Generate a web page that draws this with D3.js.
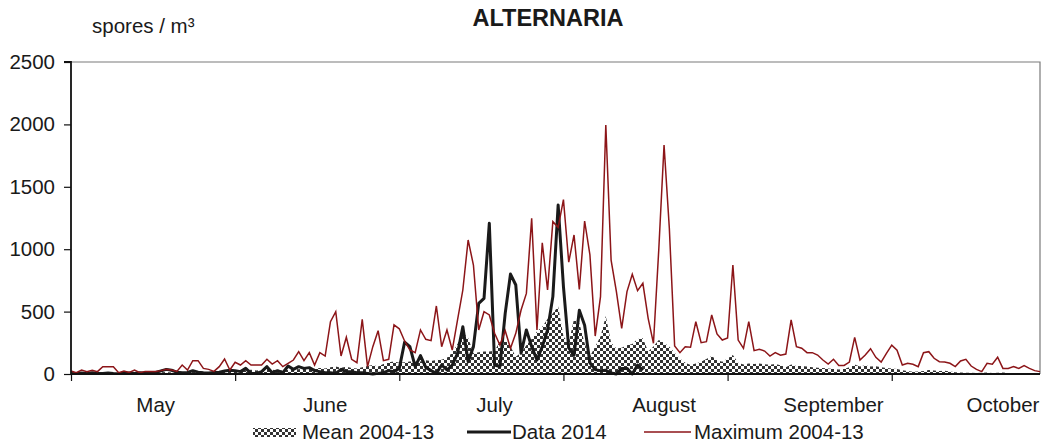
<!DOCTYPE html>
<html>
<head>
<meta charset="utf-8">
<script src="https://cdn.jsdelivr.net/npm/d3@7"></script>
<style>
  html, body { margin: 0; padding: 0; background: #fff; }
  svg { display: block; }
  text { font-family: "Liberation Sans", Arial, sans-serif; fill: #1a1a1a; }
</style>
</head>
<body>
<div id="chart"></div>
<script>
// ---- data (daily values, 1 May .. 31 Oct) ----
const startDate = "2014-05-01";

const mean2004_13 = [
  5,4,6,5,6,5,8,6,5,6, 7,5,8,6,8,9,10,14,16,12,
  10,14,12,18,20,16,14,18,20,25, 22,28,24,30,35,28,32,40,35,30,
  28,35,42,38,45,40,42,48,45,55, 60,50,58,48,45,55,65,72,60,80,
  95,100,90,95,100,99,100,110,105,112, 115,130,170,240,326,290,166,175,180,180,
  187,260,280,220,139,170,230,280,340,379, 440,486,540,300,250,440,406,246,140,220,
  300,465,250,205,210,230,240,280,286,180, 220,272,250,219,170,125,90,72,85,99,
  120,144,110,99,125,152,90,77,85,80, 85,78,75,80,70,55,77,65,64,60,
  55,50,48,45,40,37,40,55,77,60, 70,60,62,55,48,45,40,30,25,19,
  20,25,32,28,25,27,20,15,12,11, 10,8,10,12,9,10,12,8,7,8,
  6,5,5,4
];

const data2014 = [
  5,3,8,5,10,6,4,8,5,3, 6,8,5,10,6,8,12,25,37,30,
  15,10,12,27,15,10,8,12,15,24, 30,27,19,45,5,5,19,59,11,27,
  11,64,37,59,45,51,27,19,11,11, 5,37,19,19,11,11,5,0,5,11,
  27,19,45,255,219,59,147,53,27,5, 72,32,72,166,379,99,219,566,606,1207,
  72,59,486,801,713,166,353,219,112,219, 353,620,1354,700,210,150,510,390,90,35,
  27,30,8,0,45,45,0,72,30
];

const max2004_13 = [
  24,11,32,19,30,19,59,59,59,11, 24,13,32,11,21,21,21,27,37,32,
  21,72,32,107,107,45,37,21,59,120, 32,94,72,107,72,72,72,118,80,107,
  59,86,112,179,107,171,72,171,144,419, 499,144,294,118,91,438,59,219,347,107,
  118,393,362,265,192,171,353,278,267,545, 219,353,192,433,673,1074,873,353,499,473,
  326,232,347,206,326,513,646,1247,353,1052, 673,1221,1175,1397,896,1114,678,1226,954,304,
  620,1995,913,660,366,660,799,668,727,446, 246,994,1835,1167,224,171,219,214,419,251,
  259,473,321,272,288,873,272,206,419,187, 198,184,144,171,150,160,433,219,206,171,
  171,152,112,80,118,69,69,96,294,112, 152,203,134,96,166,231,190,72,86,78,
  59,171,179,126,99,96,86,59,104,118, 64,37,19,86,78,134,45,45,59,45,
  67,45,27,19
];

const yTicks = [0, 500, 1000, 1500, 2000, 2500];
const monthTickDays = [0, 31, 62, 93, 124, 155];
const months = ["May", "June", "July", "August", "September", "October"];
const monthLabelDays = [16, 48, 80, 112, 144, 176];
const legendLabels = ["Mean 2004-13", "Data 2014", "Maximum 2004-13"];
const title = "ALTERNARIA";
const unitLabel = "spores / m³";

(function () {
  // ---- layout ----
  const W = 1042, H = 445;
  const mLeft = 71, mRight = 1040, mTop = 62, mBottom = 374;
  const fontSize = 20.5;
  const redColor = "#8c1518";
  const blackColor = "#1a1a1a";

  const svg = d3.select("#chart").append("svg").attr("width", W).attr("height", H);

  const defs = svg.append("defs");
  const pat = defs.append("pattern").attr("id", "checker")
    .attr("width", 6).attr("height", 6).attr("patternUnits", "userSpaceOnUse");
  pat.append("rect").attr("width", 6).attr("height", 6).attr("fill", "#fff");
  pat.append("rect").attr("x", 0).attr("y", 0).attr("width", 3).attr("height", 3).attr("fill", "#333");
  pat.append("rect").attr("x", 3).attr("y", 3).attr("width", 3).attr("height", 3).attr("fill", "#333");

  const x = d3.scaleLinear().domain([0, max2004_13.length - 1]).range([mLeft, mRight]);
  const y = d3.scaleLinear().domain([0, 2500]).range([mBottom, mTop]);

  // plot border (top and right)
  svg.append("path")
    .attr("d", `M${mLeft},${mTop}H${mRight}V${mBottom}`)
    .attr("fill", "none").attr("stroke", "#7a7a7a").attr("stroke-width", 1.2);

  // mean area
  const area = d3.area().x((d, i) => x(i)).y0(y(0)).y1(d => y(d));
  svg.append("path").datum(mean2004_13).attr("d", area).attr("fill", "url(#checker)");

  // data 2014
  const line = d3.line().x((d, i) => x(i)).y(d => y(d));
  svg.append("path").datum(data2014).attr("d", line)
    .attr("fill", "none").attr("stroke", blackColor).attr("stroke-width", 3).attr("stroke-linejoin", "round");

  // maximum
  svg.append("path").datum(max2004_13).attr("d", line)
    .attr("fill", "none").attr("stroke", redColor).attr("stroke-width", 1.5).attr("stroke-linejoin", "miter");

  // axes
  const yAxis = svg.append("g").attr("transform", `translate(${mLeft},0)`)
    .call(d3.axisLeft(y).tickValues(yTicks).tickSize(7).tickPadding(9).tickFormat(d3.format("d")));
  yAxis.select(".domain").attr("stroke", "#111").attr("stroke-width", 1.8).attr("d", `M-7,${mTop}H0V${mBottom}`);
  yAxis.selectAll(".tick line").attr("stroke", "#111").attr("stroke-width", 1.2);
  yAxis.selectAll(".tick text").attr("font-size", fontSize).attr("font-family", "Liberation Sans, Arial, sans-serif").attr("fill", "#1a1a1a");

  const xAxis = svg.append("g").attr("transform", `translate(0,${mBottom})`)
    .call(d3.axisBottom(x).tickValues(monthTickDays).tickSize(7).tickFormat(""));
  xAxis.select(".domain").attr("stroke", "#111").attr("stroke-width", 1.8).attr("d", `M${mLeft},0H${mRight}`);
  xAxis.selectAll(".tick line").attr("stroke", "#111").attr("stroke-width", 1.2);

  // month labels
  svg.append("g").selectAll("text").data(months).join("text")
    .attr("x", (d, i) => x(monthLabelDays[i]))
    .attr("y", 412)
    .attr("text-anchor", "middle")
    .attr("font-size", fontSize)
    .text(d => d);

  // title & unit
  svg.append("text").attr("x", 548).attr("y", 26).attr("text-anchor", "middle")
    .attr("font-size", 23.5).attr("font-weight", "bold").text(title);
  svg.append("text").attr("x", 92).attr("y", 33).attr("font-size", fontSize).text(unitLabel);

  // legend
  const lg = svg.append("g");
  const ly = 432;
  lg.append("rect").attr("x", 253).attr("y", ly - 4).attr("width", 43).attr("height", 9).attr("fill", "url(#checker)");
  lg.append("text").attr("x", 302).attr("y", ly + 7).attr("font-size", fontSize).text(legendLabels[0]);
  lg.append("line").attr("x1", 467).attr("x2", 511).attr("y1", ly).attr("y2", ly)
    .attr("stroke", blackColor).attr("stroke-width", 3);
  lg.append("text").attr("x", 512).attr("y", ly + 7).attr("font-size", fontSize).text(legendLabels[1]);
  lg.append("line").attr("x1", 644).attr("x2", 691).attr("y1", ly).attr("y2", ly)
    .attr("stroke", redColor).attr("stroke-width", 1.5);
  lg.append("text").attr("x", 694).attr("y", ly + 7).attr("font-size", fontSize).text(legendLabels[2]);
})();
</script>
</body>
</html>
